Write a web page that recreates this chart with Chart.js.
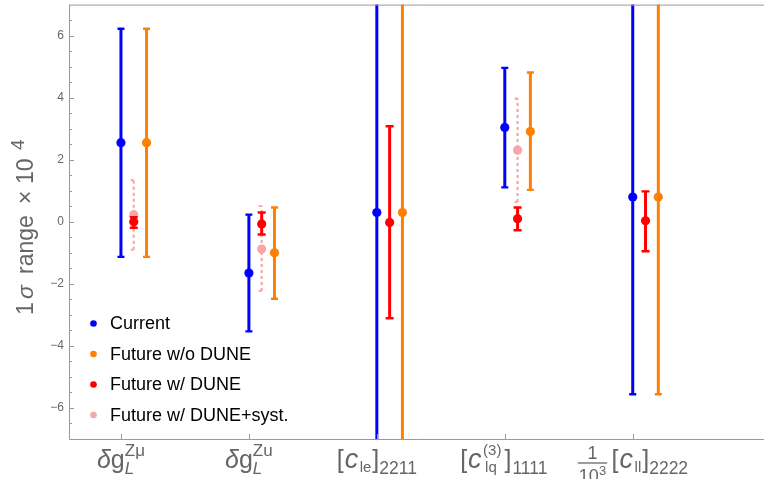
<!DOCTYPE html>
<html>
<head>
<meta charset="utf-8">
<script src="https://cdn.jsdelivr.net/npm/chart.js@4.4.1/dist/chart.umd.min.js"></script>
<style>
  html, body { margin: 0; padding: 0; background: #ffffff; }
  #wrap { width: 764px; height: 479px; }
</style>
</head>
<body>
<div id="wrap"><canvas id="c" width="764" height="479"></canvas></div>
<script>
// ---------------- data ----------------
const categories = ['δg_L^Zμ', 'δg_L^Zu', '[c_le]_2211', '[c_lq^(3)]_1111', '10^-3 [c_ll]_2222'];

const currentMid = [2.55, -1.65, 0.30, 3.04, 0.80];
const currentLo  = [-1.13, -3.53, -9.0, 1.11, -5.56];
const currentHi  = [6.22, 0.23, 9.6, 4.96, 7.2];

const noDuneMid = [2.55, -1.00, 0.30, 2.91, 0.80];
const noDuneLo  = [-1.13, -2.48, -9.0, 1.03, -5.56];
const noDuneHi  = [6.22, 0.46, 9.6, 4.81, 7.2];

const duneMid = [0.00, -0.07, -0.02, 0.10, 0.03];
const duneLo  = [-0.19, -0.41, -3.11, -0.27, -0.95];
const duneHi  = [0.15, 0.30, 3.08, 0.46, 0.98];

const systMid = [0.23, -0.88, null, 2.31, null];
const systLo  = [-0.90, -2.23, null, 0.64, null];
const systHi  = [1.34, 0.51, null, 3.97, null];

const seriesNames = ['Current', 'Future w/o DUNE', 'Future w/ DUNE', 'Future w/ DUNE+syst.'];
const yTicks = [-6, -4, -2, 0, 2, 4, 6];

// ---------------- styles ----------------
const FONT = '"Liberation Sans", Arial, Helvetica, sans-serif';
const seriesStyle = [
  { color: '#0000ff', off: 0.0, lw: 3, dash: [], cap: 3.5 },
  { color: '#ff8000', off: 0.2, lw: 3, dash: [], cap: 3.5 },
  { color: '#ff0000', off: 0.1, lw: 3, dash: [], cap: 4 },
  { color: '#f9a6a6', off: 0.1, lw: 2.2, dash: [3, 3], cap: 3 }
];
const seriesData = [
  { mid: currentMid, lo: currentLo, hi: currentHi },
  { mid: noDuneMid, lo: noDuneLo, hi: noDuneHi },
  { mid: duneMid, lo: duneLo, hi: duneHi },
  { mid: systMid, lo: systLo, hi: systHi }
];

function pts(k) {
  const d = seriesData[k], st = seriesStyle[k];
  const out = [];
  categories.forEach((c, i) => {
    if (d.mid[i] !== null) out.push({ x: i + 1 + st.off, y: d.mid[i] });
  });
  return out;
}

const datasets = seriesNames.map((name, k) => ({
  label: name,
  data: pts(k),
  backgroundColor: seriesStyle[k].color,
  borderColor: seriesStyle[k].color,
  pointRadius: 4.6,
  pointBorderWidth: 0,
  showLine: false
}));

// ---------------- rich text helpers ----------------
function fontOf(r) { return (r.it ? 'italic ' : '') + r.s + 'px ' + FONT; }
function itemWidth(ctx, it) {
  if (it.stack) return Math.max(...it.stack.map(r => itemWidth(ctx, r))) + (it.gap || 0);
  if (it.frac) return Math.max(seqWidth(ctx, it.frac.num), seqWidth(ctx, it.frac.den)) + 3 + (it.gap || 0);
  ctx.font = fontOf(it);
  return ctx.measureText(it.t).width + (it.gap || 0) + (it.pre || 0);
}
function seqWidth(ctx, items) { return items.reduce((a, it) => a + itemWidth(ctx, it), 0); }
function drawSeq(ctx, items, x, base) {
  for (const it of items) {
    const w = itemWidth(ctx, it);
    if (it.stack) {
      for (const r of it.stack) { ctx.font = fontOf(r); ctx.fillText(r.t, x + (r.pre || 0), base + (r.dy || 0)); }
    } else if (it.frac) {
      const f = it.frac;
      const fw = w - (it.gap || 0);
      const wn = seqWidth(ctx, f.num), wd = seqWidth(ctx, f.den);
      drawSeq(ctx, f.num, x + (fw - wn) / 2, base + f.ndy);
      drawSeq(ctx, f.den, x + (fw - wd) / 2, base + f.ddy);
      ctx.save();
      ctx.strokeStyle = ctx.fillStyle; ctx.lineWidth = 1.3;
      ctx.beginPath(); ctx.moveTo(x + 0.5, base + f.ly); ctx.lineTo(x + fw - 0.5, base + f.ly); ctx.stroke();
      ctx.restore();
    } else {
      ctx.font = fontOf(it);
      ctx.fillText(it.t, x + (it.pre || 0), base + (it.dy || 0));
    }
    x += w;
  }
}

const M = 25, SUB = 17.5, SS = 17;
const xLabelRuns = [
  [{ t: 'δ', s: M, it: true }, { t: 'g', s: M }, { stack: [{ t: 'Zμ', s: SS, dy: -12 }, { t: 'L', s: SS, it: true, dy: 6 }] }],
  [{ t: 'δ', s: M, it: true }, { t: 'g', s: M }, { stack: [{ t: 'Zu', s: SS, dy: -12 }, { t: 'L', s: SS, it: true, dy: 6 }] }],
  [{ t: '[', s: M, gap: 1 }, { t: 'c', s: M + 2, it: true, gap: 1.5 }, { t: 'le', s: 15, dy: 4, gap: 1 }, { t: ']', s: M }, { t: '2211', s: SUB, dy: 6 }],
  [{ t: '[', s: M, gap: 1 }, { t: 'c', s: M + 2, it: true, gap: 1.5 }, { stack: [{ t: '(3)', s: 15, dy: -13 }, { t: 'lq', s: 15, dy: 4, pre: 2 }], gap: 3 }, { t: ']', s: M, gap: 1 }, { t: '1111', s: SUB, dy: 6, gap: 2 }],
  [{ frac: { num: [{ t: '1', s: 18 }], den: [{ t: '10', s: 18 }, { t: '3', s: 13, dy: -7 }], ndy: -9, ly: -5, ddy: 14 }, gap: 4 },
   { t: '[', s: M, gap: 1 }, { t: 'c', s: M + 2, it: true, gap: 1.5 }, { t: 'll', s: 15, dy: 4, gap: 1 }, { t: ']', s: M }, { t: '2222', s: SUB, dy: 6 }]
];

// ---------------- plugin: error bars, frame, labels, legend ----------------
const errorBarPlugin = {
  id: 'errorBars',
  beforeDatasetDraw(chart, args) {
    const k = args.index;
    const d = seriesData[k], st = seriesStyle[k];
    const xs = chart.scales.x, ys = chart.scales.y, ca = chart.chartArea, ctx = chart.ctx;
    ctx.save();
    ctx.beginPath(); ctx.rect(ca.left, ca.top, chart.width - ca.left, ca.bottom - ca.top); ctx.clip();
    ctx.strokeStyle = st.color; ctx.lineWidth = st.lw; ctx.setLineDash(st.dash); ctx.lineCap = 'butt';
    categories.forEach((c, i) => {
      if (d.lo[i] === null) return;
      const x = xs.getPixelForValue(i + 1 + st.off);
      const y1 = ys.getPixelForValue(d.lo[i]), y2 = ys.getPixelForValue(d.hi[i]);
      ctx.beginPath(); ctx.moveTo(x, y1); ctx.lineTo(x, y2); ctx.stroke();
      ctx.lineWidth = st.dash.length ? st.lw : 2.4;
      ctx.beginPath();
      ctx.moveTo(x - st.cap, y1); ctx.lineTo(x + st.cap, y1);
      ctx.moveTo(x - st.cap, y2); ctx.lineTo(x + st.cap, y2);
      ctx.stroke();
      ctx.lineWidth = st.lw;
    });
    ctx.restore();
  },
  afterDraw(chart) {
    const ctx = chart.ctx, ca = chart.chartArea, xs = chart.scales.x, ys = chart.scales.y;
    const W = chart.width;
    ctx.save();
    // frame: left, bottom, top
    ctx.strokeStyle = '#9a9a9a'; ctx.lineWidth = 1;
    ctx.beginPath();
    ctx.moveTo(ca.left + 0.5, ca.top); ctx.lineTo(ca.left + 0.5, ca.bottom + 0.5);
    ctx.lineTo(W, ca.bottom + 0.5);
    ctx.moveTo(ca.left, ca.top + 0.5); ctx.lineTo(W, ca.top + 0.5);
    ctx.stroke();
    // y ticks (inward): major every 2, minor every 0.5
    ctx.beginPath();
    for (let v = -6.5; v <= 6.501; v += 0.5) {
      const y = Math.round(ys.getPixelForValue(v)) + 0.5;
      const len = yTicks.includes(v) ? 5 : 3;
      ctx.moveTo(ca.left, y); ctx.lineTo(ca.left + len, y);
    }
    // x ticks at categories
    categories.forEach((c, i) => {
      const x = Math.round(xs.getPixelForValue(i + 1)) + 0.5;
      ctx.moveTo(x, ca.bottom); ctx.lineTo(x, ca.bottom - 5);
    });
    ctx.stroke();

    // x labels
    ctx.fillStyle = '#666666'; ctx.textBaseline = 'alphabetic'; ctx.textAlign = 'left';
    xLabelRuns.forEach((runs, i) => {
      const cx = xs.getPixelForValue(i + 1);
      const w = seqWidth(ctx, runs);
      drawSeq(ctx, runs, cx - w / 2, 468);
    });

    // y title (rotated)
    const yTitle = [
      { t: '1', s: 23, at: 315 },
      { t: 'σ', s: 23, it: true, at: 299 },
      { t: 'range', s: 23, at: 274 },
      { t: '×', s: 23, at: 204 },
      { t: '10', s: 23, at: 184 },
      { t: '4', s: 19, at: 150, dx: -9 }
    ];
    ctx.fillStyle = '#666666';
    yTitle.forEach(p => {
      ctx.save();
      ctx.translate(33 + (p.dx || 0), p.at);
      ctx.rotate(-Math.PI / 2);
      ctx.font = fontOf(p);
      ctx.fillText(p.t, 0, 0);
      ctx.restore();
    });

    // legend
    const rows = [323.5, 354, 384.5, 415];
    seriesNames.forEach((name, k) => {
      ctx.fillStyle = seriesStyle[k].color;
      ctx.beginPath(); ctx.arc(93.5, rows[k], 3.3, 0, Math.PI * 2); ctx.fill();
      ctx.fillStyle = '#000000';
      ctx.font = '18px ' + FONT; ctx.textBaseline = 'middle';
      ctx.fillText(name, 110, rows[k] + 1);
    });
    ctx.restore();
  }
};

Chart.defaults.font.family = FONT;
new Chart(document.getElementById('c'), {
  type: 'scatter',
  data: { datasets },
  options: {
    responsive: false,
    animation: false,
    devicePixelRatio: 1,
    layout: { padding: { left: 0, right: 0, top: 4, bottom: 40 } },
    plugins: { legend: { display: false }, tooltip: { enabled: false } },
    scales: {
      x: { type: 'linear', min: 0.594, max: 5.99, display: false },
      y: {
        type: 'linear', min: -7, max: 7,
        grid: { display: false }, border: { display: false },
        afterBuildTicks: s => { s.ticks = yTicks.map(v => ({ value: v })); },
        afterFit: s => { s.width = 69; s.paddingTop = 0; s.paddingBottom = 0; s.paddingLeft = 0; s.paddingRight = 0; },
        ticks: {
          padding: -3, color: '#666666', font: { size: 12 },
          callback: v => (v < 0 ? '−' + Math.abs(v) : String(v))
        }
      }
    }
  },
  plugins: [errorBarPlugin]
});
</script>
</body>
</html>
